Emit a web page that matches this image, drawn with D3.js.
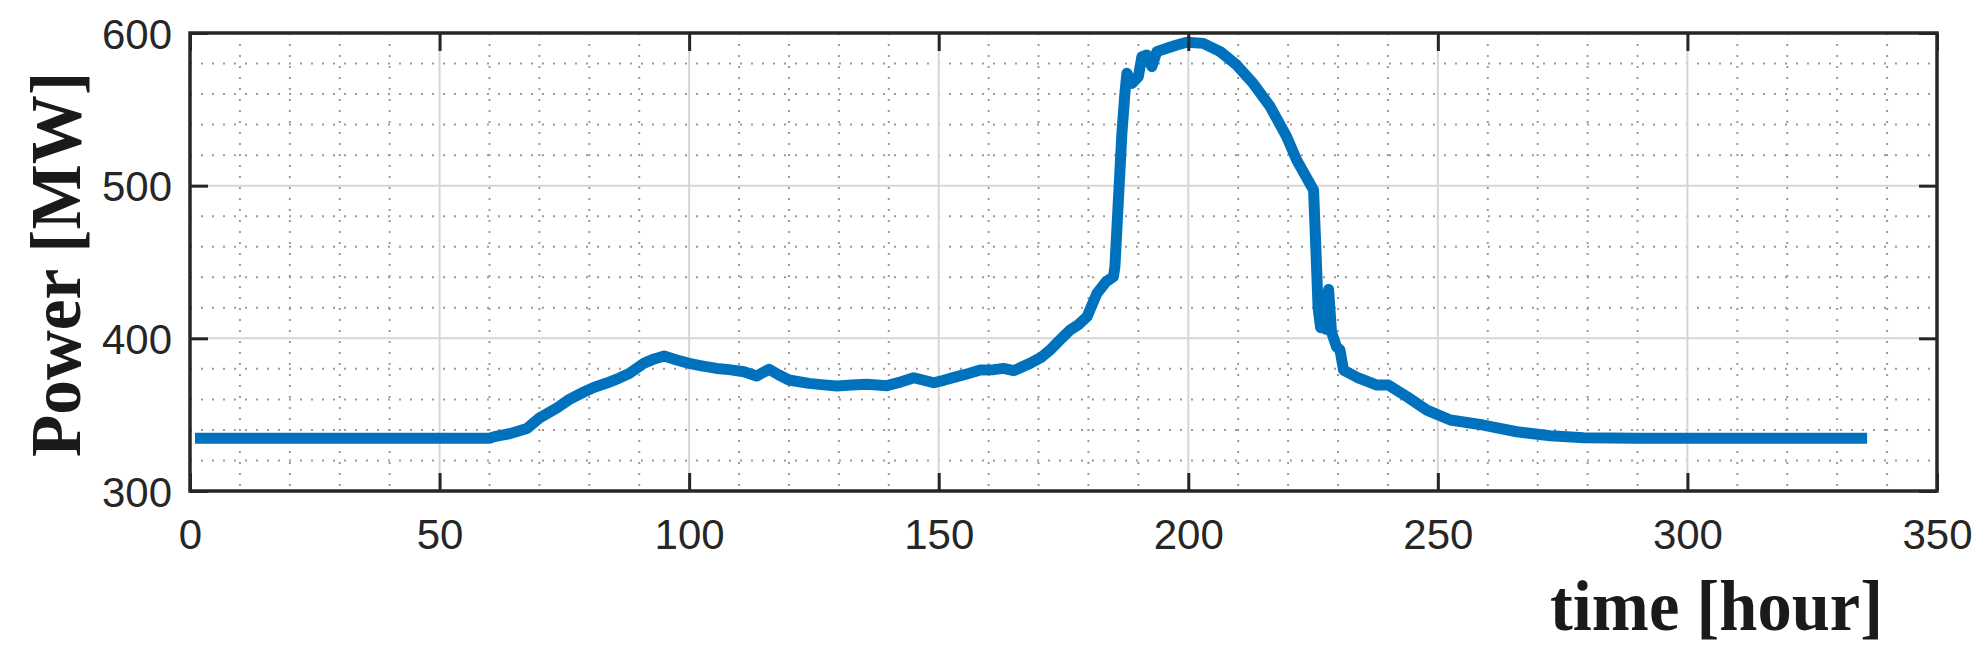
<!DOCTYPE html>
<html>
<head>
<meta charset="utf-8">
<script src="https://cdn.jsdelivr.net/npm/d3@7"></script>
<style>
  body { margin: 0; background: #fff; }
  .tick text { font-family: "Liberation Sans", Arial, sans-serif; font-size: 42px; fill: #262626; }
</style>
</head>
<body>
<div class="chart"></div>
<script>
// values
const hours = [1, 60, 61, 64, 67.5, 70, 73.5, 76, 79, 81, 83.5, 86, 88, 91, 93, 95, 97.5, 100,
  102.5, 105.5, 108, 111, 113.5, 116, 118, 120, 124, 127, 129.6, 132.5, 135.6, 139.6, 142.5, 145,
  149, 151, 153.6, 156, 158.3, 161, 163, 165, 168.3, 170.5, 172.3, 174, 176.3, 178, 179.7, 181.7,
  183.5, 185, 185.3, 186, 186.7, 187.3, 187.7, 188.7, 190, 190.7, 191.7, 192.7, 193.7, 195.7,
  197.7, 199.7, 203, 206.4, 209.7, 213, 216.4, 219.7, 221.7, 225.1, 225.7, 226.0, 226.5, 227.0,
  227.5, 228.1, 228.7, 229.7, 230.4, 231.1, 233.8, 237.8, 240.1, 243.8, 247.8, 252.5, 259.1, 265.8,
  272.5, 279.2, 290, 336];
const power = [334.5, 334.5, 335.6, 337.5, 341, 347.8, 354.4, 360, 365, 368, 370.7, 374, 377, 383.8,
  386.5, 388.4, 385.8, 383.6, 382, 380.3, 379.5, 378.1, 375.3, 379.7, 376, 372.7, 370.5, 369.5, 368.8,
  369.4, 369.9, 369, 371.5, 374.2, 370.9, 372.5, 374.9, 377, 379.2, 379.5, 380.3, 378.8, 383.6, 387.5,
  392.3, 398, 405.4, 409, 414.1, 429.5, 437, 440.3, 446.9, 490.6, 534.3, 560.5, 573.6, 567, 571.4,
  584.5, 585.6, 578, 587.8, 590, 592.1, 593.9, 593.2, 587.8, 579, 567, 551.8, 532.1, 516.9, 497.1,
  446.9, 420, 407, 428, 406, 432, 404, 394.5, 392.3, 379.2, 374.5, 369.4, 369.4, 361.8, 353, 346.5,
  343.2, 338.8, 336.2, 334.9, 334.5, 334.5];
const xTicks = [0, 50, 100, 150, 200, 250, 300, 350];
const yTicks = [300, 400, 500, 600];

const margin = {top: 33, right: 47, bottom: 162, left: 190};
const width = 1984 - margin.left - margin.right,
    height = 653 - margin.top - margin.bottom;

const svg = d3.select(".chart").append("svg")
  .attr("width", 1984)
  .attr("height", 653)
  .append("g")
  .attr("transform", "translate(" + margin.left + "," + margin.top + ")");

const xScale = d3.scaleLinear().domain([0, 350]).range([0, width]);
const yScale = d3.scaleLinear().domain([300, 600]).range([height, 0]);

// minor grid (dotted)
svg.append("g").selectAll("line")
  .data(d3.range(10, 350, 10).filter(d => d % 50 != 0))
  .enter().append("line")
  .attr("x1", d => xScale(d)).attr("x2", d => xScale(d))
  .attr("y1", 0).attr("y2", height)
  .attr("stroke", "#9a9a9a").attr("stroke-width", 2)
  .attr("stroke-dasharray", "2,9");

svg.append("g").selectAll("line")
  .data(d3.range(320, 600, 20).filter(d => d % 100 != 0))
  .enter().append("line")
  .attr("x1", 0).attr("x2", width)
  .attr("y1", d => yScale(d)).attr("y2", d => yScale(d))
  .attr("stroke", "#9a9a9a").attr("stroke-width", 2)
  .attr("stroke-dasharray", "2,9");

// major grid
svg.append("g").selectAll("line")
  .data(xTicks.slice(1, -1))
  .enter().append("line")
  .attr("x1", d => xScale(d)).attr("x2", d => xScale(d))
  .attr("y1", 0).attr("y2", height)
  .attr("stroke", "#d6d6d6").attr("stroke-width", 2);

svg.append("g").selectAll("line")
  .data(yTicks.slice(1, -1))
  .enter().append("line")
  .attr("x1", 0).attr("x2", width)
  .attr("y1", d => yScale(d)).attr("y2", d => yScale(d))
  .attr("stroke", "#d6d6d6").attr("stroke-width", 2);

// the curve
const line = d3.line()
  .x((d, i) => xScale(hours[i]))
  .y(d => yScale(d));

svg.append("path")
  .datum(power)
  .attr("fill", "none")
  .attr("stroke", "#0072BD")
  .attr("stroke-width", 11)
  .attr("stroke-linejoin", "round")
  .attr("d", line);

// axes, ticks pointing inward
const xAxis = d3.axisBottom(xScale).tickValues(xTicks).tickSize(-18).tickPadding(28);
const yAxis = d3.axisLeft(yScale).tickValues(yTicks).tickSize(-18).tickPadding(18);

svg.append("g")
  .attr("class", "xAxis")
  .attr("transform", "translate(0," + height + ")")
  .call(xAxis);

svg.append("g")
  .attr("class", "yAxis")
  .call(yAxis);

svg.append("g")
  .call(d3.axisTop(xScale).tickValues(xTicks).tickSize(-18).tickFormat(""));
svg.append("g")
  .attr("transform", "translate(" + width + ",0)")
  .call(d3.axisRight(yScale).tickValues(yTicks).tickSize(-18).tickFormat(""));

svg.selectAll(".domain").remove();
svg.selectAll(".tick line").attr("stroke", "#262626").attr("stroke-width", 3);
svg.selectAll(".yAxis .tick text").attr("dy", "0.36em");

svg.append("rect")
  .attr("width", width).attr("height", height)
  .attr("fill", "none").attr("stroke", "#262626").attr("stroke-width", 3.5);

// labels
svg.append("text")
  .attr("transform", "translate(" + (80 - margin.left) + "," + (457 - margin.top) + ") rotate(-90)")
  .attr("text-anchor", "start")
  .attr("font-family", "Liberation Serif, Times New Roman, serif")
  .attr("font-weight", "bold")
  .attr("font-size", 72)
  .attr("textLength", 385)
  .attr("lengthAdjust", "spacingAndGlyphs")
  .attr("fill", "#1a1a1a")
  .text("Power [MW]");

svg.append("text")
  .attr("x", 1550 - margin.left)
  .attr("y", 630 - margin.top)
  .attr("text-anchor", "start")
  .attr("font-family", "Liberation Serif, Times New Roman, serif")
  .attr("font-weight", "bold")
  .attr("font-size", 72)
  .attr("textLength", 333)
  .attr("lengthAdjust", "spacingAndGlyphs")
  .attr("fill", "#1a1a1a")
  .text("time [hour]");
</script>
</body>
</html>
